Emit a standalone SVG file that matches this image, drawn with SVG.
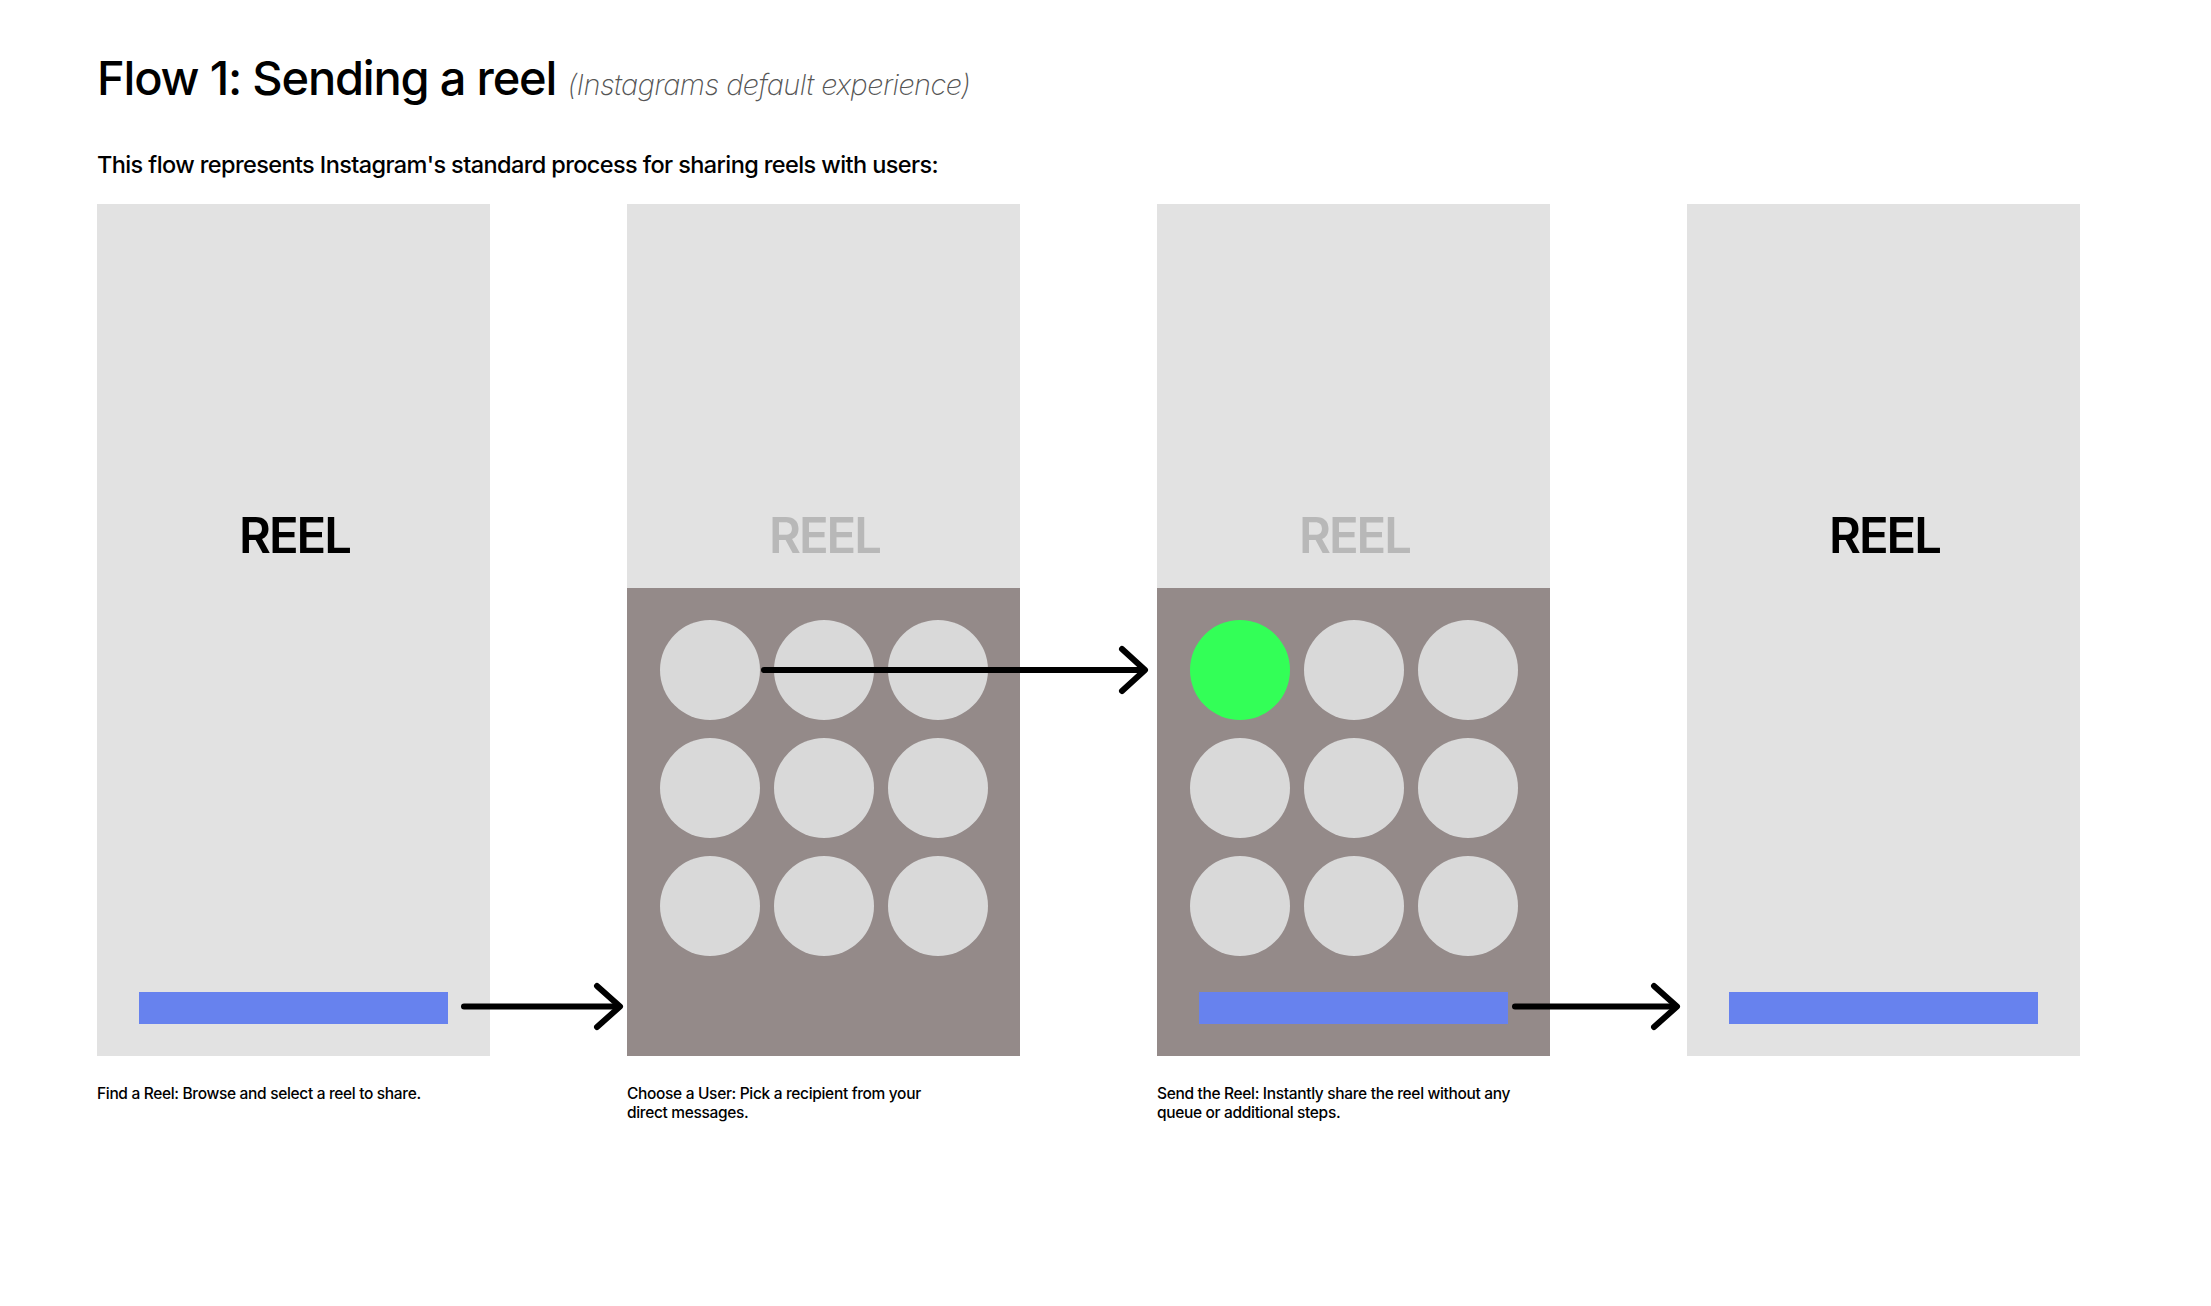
<svg xmlns="http://www.w3.org/2000/svg" width="2211" height="1306" viewBox="0 0 2211 1306">
<style>
.panel{fill:#E2E2E2}
.dark{fill:#948A89}
.dot{fill:#D9D9D9}
.bar{fill:#6782EE}
.reel{font-family:Inter,"Liberation Sans",sans-serif;font-size:49px;font-weight:600;text-anchor:middle;letter-spacing:-2px}
.cap{font-family:Inter,"Liberation Sans",sans-serif;font-size:15.5px;font-weight:500;fill:#000;letter-spacing:-0.33px}
.conn{stroke:#000;stroke-width:6;fill:none;stroke-linecap:round;stroke-linejoin:round}
</style>
<rect width="2211" height="1306" fill="#FFFFFF"/>
<g id="title">
<text x="97" y="95" font-family="Inter,'Liberation Sans',sans-serif" font-size="47" font-weight="500" letter-spacing="-1.2" fill="#000">Flow 1: Sending a reel <tspan font-size="29" font-weight="200" font-style="italic" fill="#555" letter-spacing="-0.55">(Instagrams default experience)</tspan></text>
<text x="97" y="173" font-family="Inter,'Liberation Sans',sans-serif" font-size="23.5" font-weight="500" letter-spacing="-0.6" fill="#000">This flow represents Instagram's standard process for sharing reels with users:</text>
</g>
<g id="screen1">
<rect class="panel" x="97" y="204" width="393" height="852"/>
<text class="reel" x="294.5" y="553" fill="#000">REEL</text>
<rect class="bar" x="139" y="992" width="309" height="32"/>
<text class="cap" x="97" y="1099">Find a Reel: Browse and select a reel to share.</text>
</g>
<g id="screen2">
<rect class="panel" x="627" y="204" width="393" height="852"/>
<text class="reel" x="824.5" y="553" fill="#B8B8B8">REEL</text>
<rect class="dark" x="627" y="588" width="393" height="468"/>
<circle class="dot" cx="710" cy="670" r="50"/>
<circle class="dot" cx="824" cy="670" r="50"/>
<circle class="dot" cx="938" cy="670" r="50"/>
<circle class="dot" cx="710" cy="788" r="50"/>
<circle class="dot" cx="824" cy="788" r="50"/>
<circle class="dot" cx="938" cy="788" r="50"/>
<circle class="dot" cx="710" cy="906" r="50"/>
<circle class="dot" cx="824" cy="906" r="50"/>
<circle class="dot" cx="938" cy="906" r="50"/>
<text class="cap" x="627" y="1099">Choose a User: Pick a recipient from your</text>
<text class="cap" x="627" y="1118">direct messages.</text>
</g>
<g id="screen3">
<rect class="panel" x="1157" y="204" width="393" height="852"/>
<text class="reel" x="1354.5" y="553" fill="#B8B8B8">REEL</text>
<rect class="dark" x="1157" y="588" width="393" height="468"/>
<circle cx="1240" cy="670" r="50" fill="#33FF57"/>
<circle class="dot" cx="1354" cy="670" r="50"/>
<circle class="dot" cx="1468" cy="670" r="50"/>
<circle class="dot" cx="1240" cy="788" r="50"/>
<circle class="dot" cx="1354" cy="788" r="50"/>
<circle class="dot" cx="1468" cy="788" r="50"/>
<circle class="dot" cx="1240" cy="906" r="50"/>
<circle class="dot" cx="1354" cy="906" r="50"/>
<circle class="dot" cx="1468" cy="906" r="50"/>
<rect class="bar" x="1199" y="992" width="309" height="32"/>
<text class="cap" x="1157" y="1099">Send the Reel: Instantly share the reel without any</text>
<text class="cap" x="1157" y="1118">queue or additional steps.</text>
</g>
<g id="screen4">
<rect class="panel" x="1687" y="204" width="393" height="852"/>
<text class="reel" x="1884.5" y="553" fill="#000">REEL</text>
<rect class="bar" x="1729" y="992" width="309" height="32"/>
</g>
<g id="connectors">
<path class="conn" d="M464 1006.5H619" stroke-linecap="butt"/>
<path class="conn" d="M597 986L620 1006.5L597 1027"/>
<path class="conn" d="M764 670H1144" stroke-linecap="butt"/>
<path class="conn" d="M1122 649L1145 670L1122 691"/>
<path class="conn" d="M1515 1006.5H1676" stroke-linecap="butt"/>
<path class="conn" d="M1654 986L1677 1006.5L1654 1027"/>
</g>
</svg>
